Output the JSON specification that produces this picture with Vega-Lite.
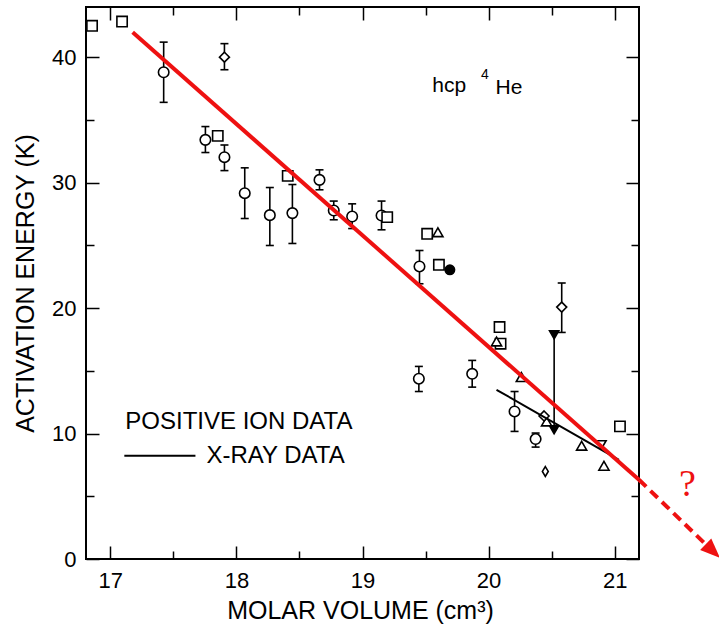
{
  "$schema": "https://vega.github.io/schema/vega-lite/v6.json",
  "width": 553,
  "height": 552,
  "autosize": {"type": "none"},
  "padding": {"left": 86, "top": 7, "right": 80, "bottom": 67},
  "background": "white",
  "config": {
    "view": {"stroke": "black", "strokeWidth": 2},
    "font": "Liberation Sans",
    "axis": {"domain": false, "grid": false, "tickColor": "black", "tickWidth": 1.5, "labelColor": "black", "titleColor": "black", "labelFont": "Liberation Sans", "titleFont": "Liberation Sans", "labelFontSize": 22, "titleFontSize": 23, "titleFontWeight": "normal", "labelOverlap": false, "labelFlush": false}
  },
  "datasets": {
    "pts": [
      {"v": 17.423, "e": 38.8, "lo": 36.4, "hi": 41.2, "type": "o"},
      {"v": 17.754, "e": 33.41, "lo": 32.4, "hi": 34.47, "type": "o"},
      {"v": 17.905, "e": 32.03, "lo": 30.96, "hi": 33.0, "type": "o"},
      {"v": 18.066, "e": 29.16, "lo": 27.14, "hi": 31.18, "type": "o"},
      {"v": 18.265, "e": 27.41, "lo": 24.99, "hi": 29.61, "type": "o"},
      {"v": 18.444, "e": 27.57, "lo": 25.15, "hi": 29.85, "type": "o"},
      {"v": 18.659, "e": 30.22, "lo": 29.43, "hi": 31.02, "type": "o"},
      {"v": 18.772, "e": 27.78, "lo": 27.04, "hi": 28.53, "type": "o"},
      {"v": 18.918, "e": 27.3, "lo": 26.34, "hi": 28.31, "type": "o"},
      {"v": 19.151, "e": 27.38, "lo": 26.24, "hi": 28.53, "type": "o"},
      {"v": 19.452, "e": 23.32, "lo": 21.94, "hi": 24.59, "type": "o"},
      {"v": 19.447, "e": 14.37, "lo": 13.35, "hi": 15.35, "type": "o"},
      {"v": 19.87, "e": 14.76, "lo": 13.7, "hi": 15.83, "type": "o"},
      {"v": 20.206, "e": 11.76, "lo": 10.17, "hi": 13.35, "type": "o"},
      {"v": 20.373, "e": 9.56, "lo": 8.92, "hi": 10.04, "type": "o"},
      {"v": 16.855, "e": 42.5, "type": "sq"},
      {"v": 17.093, "e": 42.84, "type": "sq"},
      {"v": 17.852, "e": 33.73, "type": "sq"},
      {"v": 18.407, "e": 30.54, "type": "sq"},
      {"v": 19.196, "e": 27.25, "type": "sq"},
      {"v": 19.513, "e": 25.92, "type": "sq"},
      {"v": 19.606, "e": 23.45, "type": "sq"},
      {"v": 20.087, "e": 18.49, "type": "sq"},
      {"v": 20.095, "e": 17.16, "type": "sq"},
      {"v": 21.042, "e": 10.57, "type": "sq"},
      {"v": 19.598, "e": 26.05, "type": "tri"},
      {"v": 20.063, "e": 17.34, "type": "tri"},
      {"v": 20.26, "e": 14.5, "type": "tri"},
      {"v": 20.46, "e": 10.96, "type": "tri"},
      {"v": 20.738, "e": 9.03, "type": "tri"},
      {"v": 20.915, "e": 7.43, "type": "tri"},
      {"v": 17.905, "e": 40.0, "lo": 39.0, "hi": 41.08, "type": "dia"},
      {"v": 20.58, "e": 20.08, "lo": 18.06, "hi": 22.0, "type": "dia"},
      {"v": 20.44, "e": 11.4, "type": "dia"},
      {"v": 20.45, "e": 6.98, "type": "sdia"},
      {"v": 20.894, "e": 9.1, "type": "tdn"},
      {"v": 19.693, "e": 23.05, "type": "fc"},
      {"v": 20.52, "e": 17.87, "lo": 10.3, "hi": 17.87, "type": "ftd"},
      {"v": 20.52, "e": 10.3, "type": "ftd"}
    ],
    "xray": [
      {"v": 20.063, "e": 13.49, "g": "fit"},
      {"v": 21.034, "e": 7.91, "g": "fit"},
      {"v": 17.111, "e": 8.23, "g": "key"},
      {"v": 17.675, "e": 8.23, "g": "key"}
    ],
    "red": [
      {"v": 17.177, "e": 41.99},
      {"v": 21.193, "e": 6.32}
    ],
    "reddash": [
      {"v": 21.193, "e": 6.32},
      {"v": 21.72, "e": 1.19}
    ],
    "arrow": [
      {"v": 21.779, "e": 0.63}
    ],
    "main": [
      {"t": "hcp", "v": 19.553, "e": 37.26},
      {"t": "He", "v": 20.055, "e": 37.05}
    ],
    "sup": [
      {"t": "4", "v": 19.94, "e": 38.25}
    ],
    "legend": [
      {"t": "POSITIVE ION DATA", "v": 17.119, "e": 10.36},
      {"t": "X-RAY DATA", "v": 17.762, "e": 7.65}
    ],
    "q": [
      {"t": "?", "v": 21.51, "e": 5.04}
    ]
  },
  "resolve": {"axis": {"x": "independent", "y": "independent"}},
  "layer": [
    {
      "data": {"name": "pts"},
      "transform": [{"filter": "datum.lo != null"}],
      "mark": {"type": "rule", "color": "black", "strokeWidth": 1.6},
      "encoding": {
        "x": {"field": "v", "type": "quantitative", "scale": {"domain": [16.807, 21.193], "nice": false, "zero": false},
          "axis": {"orient": "bottom", "values": [17, 17.5, 18, 18.5, 19, 19.5, 20, 20.5, 21],
            "labelExpr": "datum.value % 1 === 0 ? format(datum.value, 'd') : ''",
            "tickSize": {"condition": {"test": "datum.value % 1 === 0", "value": -13}, "value": -8},
            "labelPadding": 41, "labelBaseline": "alphabetic",
            "title": "MOLAR VOLUME (cm³)", "titleX": 274, "titleY": 59, "titleBaseline": "alphabetic", "titleAlign": "center", "titleFontSize": 25}},
        "y": {"field": "lo", "type": "quantitative", "scale": {"domain": [0, 44], "nice": false, "zero": false},
          "axis": {"orient": "left", "values": [0, 5, 10, 15, 20, 25, 30, 35, 40],
            "labelExpr": "datum.value % 10 === 0 ? format(datum.value, 'd') : ''",
            "tickSize": {"condition": {"test": "datum.value % 10 === 0", "value": -13}, "value": -8},
            "labelPadding": 23,
            "title": "ACTIVATION ENERGY (K)", "titleX": -53, "titleY": 276, "titleAngle": -90, "titleBaseline": "alphabetic", "titleAlign": "center", "titleFontSize": 25}},
        "y2": {"field": "hi"}
      }
    },
    {
      "data": {"name": "pts"},
      "transform": [{"filter": "datum.lo != null && datum.type != 'ftd'"}],
      "mark": {"type": "tick", "orient": "horizontal", "color": "black", "size": 8, "thickness": 1.6, "opacity": 1},
      "encoding": {
        "x": {"field": "v", "type": "quantitative", "scale": {"domain": [16.807, 21.193], "nice": false, "zero": false},
          "axis": {"orient": "top", "values": [17, 17.5, 18, 18.5, 19, 19.5, 20, 20.5, 21], "labels": false, "title": null,
            "tickSize": {"condition": {"test": "datum.value % 1 === 0", "value": -13}, "value": -8}}},
        "y": {"field": "lo", "type": "quantitative", "scale": {"domain": [0, 44], "nice": false, "zero": false},
          "axis": {"orient": "right", "values": [0, 5, 10, 15, 20, 25, 30, 35, 40], "labels": false, "title": null,
            "tickSize": {"condition": {"test": "datum.value % 10 === 0", "value": -13}, "value": -8}}}
      }
    },
    {
      "data": {"name": "pts"},
      "transform": [{"filter": "datum.lo != null && datum.type != 'ftd'"}],
      "mark": {"type": "tick", "orient": "horizontal", "color": "black", "size": 8, "thickness": 1.6, "opacity": 1},
      "encoding": {
        "x": {"field": "v", "type": "quantitative", "scale": {"domain": [16.807, 21.193], "nice": false, "zero": false}, "axis": null},
        "y": {"field": "hi", "type": "quantitative", "scale": {"domain": [0, 44], "nice": false, "zero": false}, "axis": null}
      }
    },
    {
      "data": {"name": "pts"},
      "mark": {"type": "point", "filled": true, "stroke": "black", "strokeWidth": 1.6, "opacity": 1, "fillOpacity": 1, "strokeOpacity": 1},
      "encoding": {
        "x": {"field": "v", "type": "quantitative", "scale": {"domain": [16.807, 21.193], "nice": false, "zero": false}, "axis": null},
        "y": {"field": "e", "type": "quantitative", "scale": {"domain": [0, 44], "nice": false, "zero": false}, "axis": null},
        "shape": {"field": "type", "type": "nominal", "legend": null,
          "scale": {"domain": ["o", "sq", "tri", "dia", "sdia", "tdn", "fc", "ftd"],
            "range": ["circle", "square", "triangle-up", "M0,-1L1,0L0,1L-1,0Z", "M0,-1L0.6,0L0,1L-0.6,0Z", "triangle-down", "circle", "triangle-down"]}},
        "fill": {"field": "type", "type": "nominal", "legend": null,
          "scale": {"domain": ["o", "sq", "tri", "dia", "sdia", "tdn", "fc", "ftd"],
            "range": ["white", "white", "white", "white", "white", "white", "black", "black"]}},
        "size": {"field": "type", "type": "nominal", "legend": null,
          "scale": {"domain": ["o", "sq", "tri", "dia", "sdia", "tdn", "fc", "ftd"],
            "range": [110, 85, 120, 200, 160, 120, 100, 120]}}
      }
    },
    {
      "data": {"name": "xray"},
      "mark": {"type": "line", "color": "black", "strokeWidth": 2},
      "encoding": {
        "x": {"field": "v", "type": "quantitative", "scale": {"domain": [16.807, 21.193], "nice": false, "zero": false}, "axis": null},
        "y": {"field": "e", "type": "quantitative", "scale": {"domain": [0, 44], "nice": false, "zero": false}, "axis": null},
        "detail": {"field": "g", "type": "nominal"}
      }
    },
    {
      "data": {"name": "red"},
      "mark": {"type": "line", "color": "#ee1111", "strokeWidth": 4, "strokeCap": "butt"},
      "encoding": {
        "x": {"field": "v", "type": "quantitative", "scale": {"domain": [16.807, 21.193], "nice": false, "zero": false}, "axis": null},
        "y": {"field": "e", "type": "quantitative", "scale": {"domain": [0, 44], "nice": false, "zero": false}, "axis": null}
      }
    },
    {
      "data": {"name": "reddash"},
      "mark": {"type": "line", "color": "#ee1111", "strokeWidth": 4, "strokeDash": [10, 6], "strokeCap": "butt", "clip": false},
      "encoding": {
        "x": {"field": "v", "type": "quantitative", "scale": {"domain": [16.807, 21.193], "nice": false, "zero": false}, "axis": null},
        "y": {"field": "e", "type": "quantitative", "scale": {"domain": [0, 44], "nice": false, "zero": false}, "axis": null}
      }
    },
    {
      "data": {"name": "arrow"},
      "mark": {"type": "point", "shape": "M1,0L-1,-0.8L-1,0.8Z", "filled": true, "color": "#ee1111", "size": 400, "angle": 44, "opacity": 1, "clip": false},
      "encoding": {
        "x": {"field": "v", "type": "quantitative", "scale": {"domain": [16.807, 21.193], "nice": false, "zero": false}, "axis": null},
        "y": {"field": "e", "type": "quantitative", "scale": {"domain": [0, 44], "nice": false, "zero": false}, "axis": null}
      }
    },
    {
      "data": {"name": "main"},
      "mark": {"type": "text", "font": "Liberation Sans", "fontSize": 21, "align": "left", "baseline": "alphabetic", "color": "black"},
      "encoding": {
        "x": {"field": "v", "type": "quantitative", "scale": {"domain": [16.807, 21.193], "nice": false, "zero": false}, "axis": null},
        "y": {"field": "e", "type": "quantitative", "scale": {"domain": [0, 44], "nice": false, "zero": false}, "axis": null},
        "text": {"field": "t"}
      }
    },
    {
      "data": {"name": "sup"},
      "mark": {"type": "text", "font": "Liberation Sans", "fontSize": 14, "align": "left", "baseline": "alphabetic", "color": "black"},
      "encoding": {
        "x": {"field": "v", "type": "quantitative", "scale": {"domain": [16.807, 21.193], "nice": false, "zero": false}, "axis": null},
        "y": {"field": "e", "type": "quantitative", "scale": {"domain": [0, 44], "nice": false, "zero": false}, "axis": null},
        "text": {"field": "t"}
      }
    },
    {
      "data": {"name": "legend"},
      "mark": {"type": "text", "font": "Liberation Sans", "fontSize": 24, "align": "left", "baseline": "alphabetic", "color": "black"},
      "encoding": {
        "x": {"field": "v", "type": "quantitative", "scale": {"domain": [16.807, 21.193], "nice": false, "zero": false}, "axis": null},
        "y": {"field": "e", "type": "quantitative", "scale": {"domain": [0, 44], "nice": false, "zero": false}, "axis": null},
        "text": {"field": "t"}
      }
    },
    {
      "data": {"name": "q"},
      "mark": {"type": "text", "font": "Liberation Serif", "fontSize": 38, "align": "left", "baseline": "alphabetic", "color": "#ee1111", "clip": false},
      "encoding": {
        "x": {"field": "v", "type": "quantitative", "scale": {"domain": [16.807, 21.193], "nice": false, "zero": false}, "axis": null},
        "y": {"field": "e", "type": "quantitative", "scale": {"domain": [0, 44], "nice": false, "zero": false}, "axis": null},
        "text": {"field": "t"}
      }
    }
  ]
}
